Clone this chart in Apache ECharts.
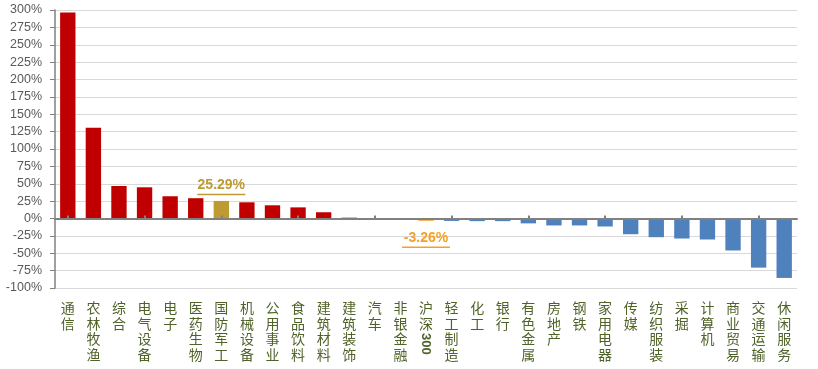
<!DOCTYPE html>
<html>
<head>
<meta charset="utf-8">
<script src="https://cdn.jsdelivr.net/npm/echarts@6/dist/echarts.min.js"></script>
<style>html,body{margin:0;padding:0;background:#fff}#c{width:818px;height:369px}</style>
</head>
<body>
<div id="c"></div>
<script>
const categories = ['通信','农林牧渔','综合','电气设备','电子','医药生物','国防军工','机械设备','公用事业','食品饮料','建筑材料','建筑装饰','汽车','非银金融','沪深300','轻工制造','化工','银行','有色金属','房地产','钢铁','家用电器','传媒','纺织服装','采掘','计算机','商业贸易','交通运输','休闲服务'];
const values = [296.5,130.5,46.8,44.9,32.0,29.2,25.29,23.3,19.0,16.0,9.0,1.8,0.3,-0.5,-3.26,-3.5,-3.8,-3.8,-7.0,-10.0,-10.0,-11.5,-22.6,-26.9,-28.8,-30.2,-46.0,-70.7,-85.5];
const yTicks = {min:-100, max:300, interval:25};
const labelledCats = ['国防军工','沪深300'];

const RED='#C00000', BLUE='#4F81BD', GOLD='#BF9A32', ORANGE='#F5A028';
function colorFor(cat, v){
  if (cat==='国防军工') return GOLD;
  if (cat==='沪深300' || cat==='建筑装饰') return ORANGE;
  return v>=0 ? RED : BLUE;
}
const data = values.map((v,i)=>{
  const cat = categories[i];
  const c = colorFor(cat, v);
  const item = {value:v, itemStyle:{color:c}};
  if (labelledCats.includes(cat)) {
    const txt = v.toFixed(2)+'%';
    item.label = {
      show:true,
      position: v>=0 ? 'top' : 'bottom',
      distance: v>=0 ? 5 : 10,
      formatter: '{t|'+txt+'}\n{u|}',
      rich:{
        t:{color:c, fontSize:14, fontWeight:'bold', fontFamily:'Liberation Sans', lineHeight:15, align:'center'},
        u:{backgroundColor:c, width:48, height:1.5, lineHeight:3, align:'center'}
      }
    };
  }
  return item;
});

const chart = echarts.init(document.getElementById('c'));
chart.setOption({
  animation:false,
  grid:{left:55, right:21, top:10, bottom:81},
  xAxis:[{
    type:'category', data:categories, position:'bottom',
    axisLine:{show:false, onZero:false}, axisTick:{show:false},
    axisLabel:{interval:0, margin:12, color:'#4F6228', fontSize:14, lineHeight:15.5,
      fontFamily:'Noto Sans CJK SC',
      formatter:(s)=>{ const t = s.replace(/\d+$/,''); return t.split('').join('\n'); }}
  },{
    type:'category', data:categories, position:'bottom', z:5,
    axisLine:{show:true, onZero:true, lineStyle:{color:'#808080', width:2}},
    axisTick:{show:true, inside:true, alignWithLabel:true, length:3, lineStyle:{color:'#808080', width:2}},
    axisLabel:{show:false}, splitLine:{show:false}
  }],
  yAxis:{
    type:'value', min:yTicks.min, max:yTicks.max, interval:yTicks.interval,
    axisLine:{show:true, lineStyle:{color:'#808080', width:1.5}},
    axisTick:{show:true, length:5, lineStyle:{color:'#808080'}},
    axisLabel:{color:'#595959', fontSize:12.5, fontFamily:'Liberation Sans', margin:13, formatter:'{value}%'},
    splitLine:{lineStyle:{color:'#D9D9D9', width:1}}
  },
  series:[{
    type:'bar', data:data, barWidth:'60%', xAxisIndex:1
  }]
});

// rotated digits part of labels like "沪深300"
const extra = [];
categories.forEach((c)=>{
  const m = c.match(/\d+$/);
  if (!m) return;
  const x = chart.convertToPixel({xAxisIndex:0}, c);
  const chars = c.length - m[0].length;
  const gridBottom = 369-81;
  const yTop = gridBottom + 12 + chars*15.5 + 2;
  extra.push({type:'text', x:x, y:yTop, rotation:-Math.PI/2,
    style:{text:m[0], fill:'#4F6228', font:'bold 13px "Liberation Sans"', textAlign:'left', textVerticalAlign:'middle'}});
});
chart.setOption({graphic:extra});
</script>
</body>
</html>
